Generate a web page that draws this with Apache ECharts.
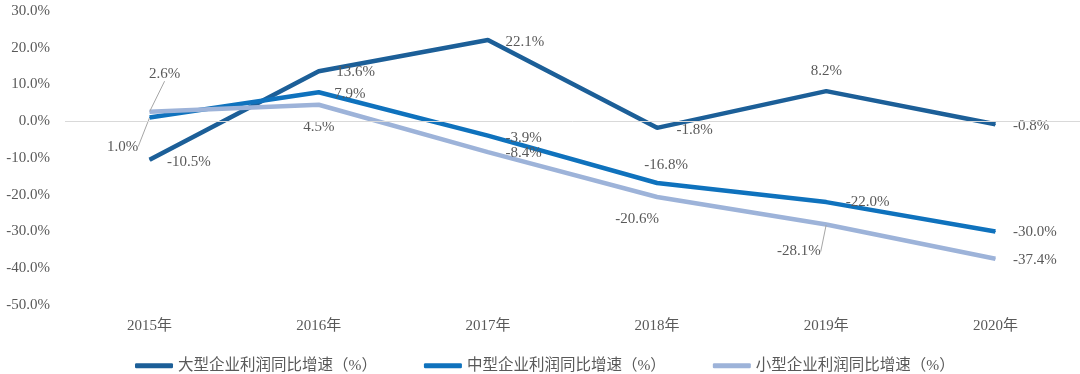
<!DOCTYPE html>
<html><head><meta charset="utf-8">
<script src="https://cdn.jsdelivr.net/npm/echarts@6/dist/echarts.min.js"></script>
<style>html,body{margin:0;padding:0;background:#fff}#c{width:1080px;height:374px}</style>
</head><body><div id="c"></div>
<script>
var categories = ['2015年','2016年','2017年','2018年','2019年','2020年'];
var seriesNames = ['大型企业利润同比增速（%）','中型企业利润同比增速（%）','小型企业利润同比增速（%）'];
var largeVals = [-10.5, 13.6, 22.1, -1.8, 8.2, -0.8];
var mediumVals = [1.0, 7.9, -3.9, -16.8, -22.0, -30.0];
var smallVals = [2.6, 4.5, -8.4, -20.6, -28.1, -37.4];
var yTicks = {min: -50, max: 30, interval: 10};
var colors = ['#1c5f98', '#0f72bd', '#9db3d9'];

var FONT = "'Liberation Serif', 'Noto Sans CJK SC', serif";
var TXT = '#595959';

// per-point label placement: [position, distance, dx, dy, leaderLine]
var largeLab = [['right',17,0,2],['right',17,0,1],['right',17,0,2],['right',19,0,2],['top',12,0,0],['right',17,0,2]];
var mediumLab = [['bottom',5,-27,16,1],['right',15,0,2],['right',17,0,2],['top',10,9,0],['right',19,0,0],['right',17,0,1]];
var smallLab = [['top',5,15,-25,1],['bottom',14,0,0],['right',17,0,1],['bottom',14,-20,0],['left',5,0,27,1],['right',17,0,1]];

function mkData(vals, labs) {
  return vals.map(function (v, i) {
    var l = labs[i];
    return {value: v, label: {position: l[0], distance: l[1]}, labelLine: {show: !!l[4]}};
  });
}
function mkSeries(idx, vals, labs) {
  return {
    name: seriesNames[idx], type: 'line', data: mkData(vals, labs),
    symbol: 'circle', symbolSize: 1, showSymbol: true, z: 3,
    lineStyle: {width: 4.5, color: colors[idx]},
    itemStyle: {color: colors[idx]},
    label: {show: true, color: TXT, fontSize: 15, fontFamily: FONT,
      formatter: function (p) { return p.value.toFixed(1) + '%'; }},
    labelLine: {show: false, minTurnAngle: 0, lineStyle: {color: '#a6a6a6', width: 1}},
    labelLayout: function (p) {
      var l = labs[p.dataIndex];
      return {dx: l[2], dy: l[3]};
    },
    emphasis: {disabled: true}
  };
}

var chart = echarts.init(document.getElementById('c'), null, {renderer: 'canvas'});
chart.setOption({
  animation: false,
  backgroundColor: '#fff',
  grid: {left: 65, right: 0, top: 11, bottom: 69},
  legend: {
    data: seriesNames, left: 130, top: 353, itemGap: 47, itemWidth: 38, itemHeight: 5,
    icon: 'roundRect',
    textStyle: {color: TXT, fontSize: 15.5, fontFamily: FONT}
  },
  xAxis: {
    type: 'category', data: categories, boundaryGap: true,
    axisLine: {show: false, onZero: false}, axisTick: {show: false},
    axisLabel: {color: TXT, fontSize: 15, fontFamily: FONT, margin: 14},
    splitLine: {show: false}
  },
  yAxis: {
    type: 'value', min: yTicks.min, max: yTicks.max, interval: yTicks.interval,
    axisLine: {show: false}, axisTick: {show: false}, splitLine: {show: false},
    axisLabel: {color: TXT, fontSize: 15, fontFamily: FONT, margin: 15,
      formatter: function (v) { return v.toFixed(1) + '%'; }}
  },
  series: [
    {type: 'line', data: [], z: 1, silent: true,
      markLine: {silent: true, symbol: 'none', label: {show: false},
        lineStyle: {color: '#d9d9d9', width: 1, type: 'solid'},
        data: [{yAxis: 0}]}},
    mkSeries(0, largeVals, largeLab),
    mkSeries(1, mediumVals, mediumLab),
    mkSeries(2, smallVals, smallLab)
  ]
});
</script></body></html>
